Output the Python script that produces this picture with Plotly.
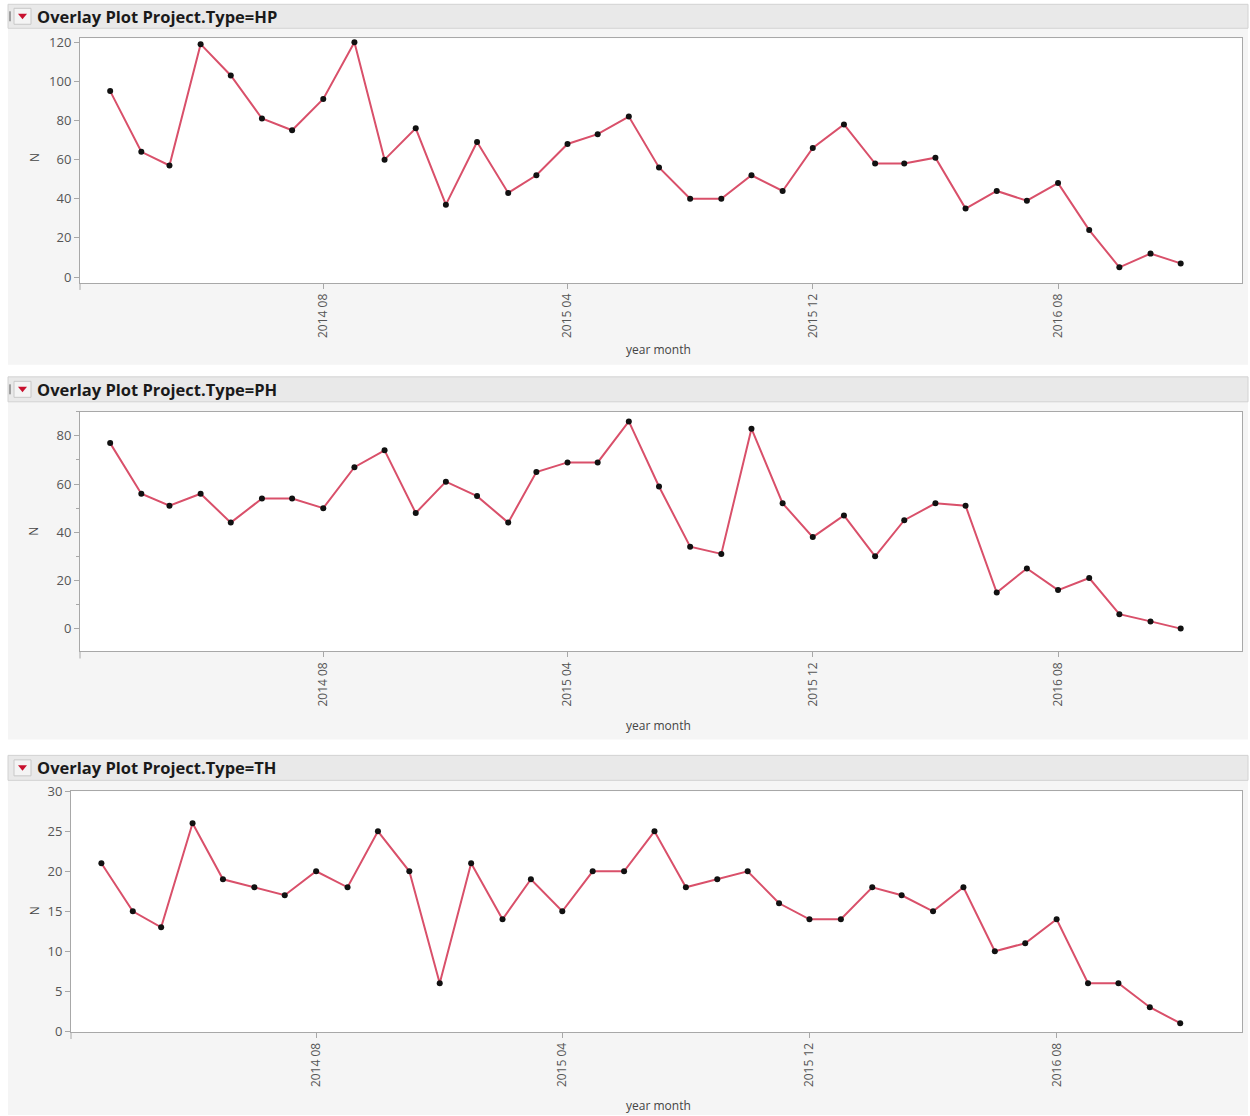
import plotly.graph_objects as go

# Monthly counts of projects, Jan 2014 - Dec 2016
months = [f"{y}-{m:02d}-01" for y in (2014, 2015, 2016) for m in range(1, 13)]

hp_counts = [95, 64, 57, 119, 103, 81, 75, 91, 120, 60, 76, 37,
             69, 43, 52, 68, 73, 82, 56, 40, 40, 52, 44, 66,
             78, 58, 58, 61, 35, 44, 39, 48, 24, 5, 12, 7]
ph_counts = [77, 56, 51, 56, 44, 54, 54, 50, 67, 74, 48, 61,
             55, 44, 65, 69, 69, 86, 59, 34, 31, 83, 52, 38,
             47, 30, 45, 52, 51, 15, 25, 16, 21, 6, 3, 0]
th_counts = [21, 15, 13, 26, 19, 18, 17, 20, 18, 25, 20, 6,
             21, 14, 19, 15, 20, 20, 25, 18, 19, 20, 16, 14,
             14, 18, 17, 15, 18, 10, 11, 14, 6, 6, 3, 1]

panel_titles = ["Overlay Plot Project.Type=HP",
                "Overlay Plot Project.Type=PH",
                "Overlay Plot Project.Type=TH"]
x_ticks = ["2014-08-01", "2015-04-01", "2015-12-01", "2016-08-01"]

W, H = 1250, 1116
# vertical placement offset/scale used when converting layout pixels
Y_OFF, Y_SCALE = 8.7, 0.986


def fx(px):
    return px / W


def fy(py):
    return 1 - ((py - Y_OFF) / Y_SCALE) / H


# pixel geometry of each panel: header band, grey body, plot frame, y-range, y-step
panels = [
    dict(head=(4, 28), body=(28, 365), plot_x=(80, 1242), plot_y=(38, 283),
         yrange=[-3, 122], dtick=20, minor=None, ytitle_y=158, xtitle_y=350,
         marker_bar=True),
    dict(head=(377, 402), body=(402, 740), plot_x=(80, 1242), plot_y=(412, 652),
         yrange=[-9.5, 90], dtick=20, minor=10, ytitle_y=532, xtitle_y=726,
         marker_bar=True),
    dict(head=(756, 781), body=(781, 1116), plot_x=(71, 1242), plot_y=(792, 1033),
         yrange=[-0.1, 30], dtick=5, minor=None, ytitle_y=912, xtitle_y=1107,
         marker_bar=False),
]
series = [hp_counts, ph_counts, th_counts]

fig = go.Figure()
shapes = []
annotations = []

line_color = "#d9506a"
axis_color = "#a8a8a8"
font_family = "Open Sans, DejaVu Sans, sans-serif"
xtick_font = dict(family=font_family, size=12, color="#555555")
ytick_font = dict(family=font_family, size=13, color="#555555")

for i, (p, counts, title) in enumerate(zip(panels, series, panel_titles)):
    n = "" if i == 0 else str(i + 1)
    xa, ya = "x" + n, "y" + n

    fig.add_trace(go.Scatter(
        x=months, y=counts, mode="lines+markers", xaxis=xa, yaxis=ya,
        line=dict(color=line_color, width=2),
        marker=dict(color="#111111", size=6),
        showlegend=False, hoverinfo="x+y",
    ))

    # grey body, white plot frame and header band
    shapes.append(dict(type="rect", xref="paper", yref="paper", layer="below",
                       x0=fx(8), x1=fx(1248), y0=fy(p["body"][1]), y1=fy(p["body"][0]),
                       fillcolor="#f5f5f5", line=dict(width=0)))
    shapes.append(dict(type="rect", xref="paper", yref="paper", layer="below",
                       x0=fx(p["plot_x"][0]), x1=fx(p["plot_x"][1]),
                       y0=fy(p["plot_y"][1]), y1=fy(p["plot_y"][0]),
                       fillcolor="#ffffff", line=dict(width=0)))
    shapes.append(dict(type="rect", xref="paper", yref="paper", layer="below",
                       x0=fx(8), x1=fx(1248), y0=fy(p["head"][1]), y1=fy(p["head"][0]),
                       fillcolor="#e9e9e9", line=dict(color="#d2d2d2", width=1)))
    # y axis line runs a little past the frame bottom
    shapes.append(dict(type="line", xref="paper", yref="paper",
                       x0=fx(p["plot_x"][0]), x1=fx(p["plot_x"][0]),
                       y0=fy(p["plot_y"][1]), y1=fy(p["plot_y"][1] + 7),
                       line=dict(color=axis_color, width=1)))
    # disclosure icon: small box with red down triangle
    hc = (p["head"][0] + p["head"][1]) / 2
    if p["marker_bar"]:
        shapes.append(dict(type="line", xref="paper", yref="paper",
                           x0=fx(10), x1=fx(10), y0=fy(hc + 5), y1=fy(hc - 5),
                           line=dict(color="#555555", width=1)))
    shapes.append(dict(type="rect", xref="paper", yref="paper",
                       x0=fx(14), x1=fx(31), y0=fy(hc + 8), y1=fy(hc - 8),
                       fillcolor="#f4f4f4", line=dict(color="#c8c8c8", width=1)))
    shapes.append(dict(type="path", xref="paper", yref="paper",
                       path=(f"M {fx(18)},{fy(hc - 2.5)} L {fx(27)},{fy(hc - 2.5)} "
                             f"L {fx(22.5)},{fy(hc + 3)} Z"),
                       fillcolor="#c8102e", line=dict(width=0)))
    annotations.append(dict(text=f"<b>{title}</b>", xref="paper", yref="paper",
                            x=fx(35), y=fy(hc), xanchor="left", yanchor="middle",
                            showarrow=False,
                            font=dict(family=font_family, size=16.5, color="#1a1a1a")))
    # axis titles
    annotations.append(dict(text="N", xref="paper", yref="paper",
                            x=fx(34), y=fy(p["ytitle_y"]), textangle=-90,
                            xanchor="center", yanchor="middle",
                            showarrow=False,
                            font=dict(family=font_family, size=12, color="#444444")))
    annotations.append(dict(text="year month", xref="paper", yref="paper",
                            x=fx(658), y=fy(p["xtitle_y"]),
                            xanchor="center", yanchor="middle", showarrow=False,
                            font=dict(family=font_family, size=12, color="#444444")))

    xaxis = dict(
        domain=[fx(p["plot_x"][0]), fx(p["plot_x"][1])],
        anchor=ya, type="date",
        range=["2013-12-02", "2017-01-31"],
        tickvals=x_ticks, tickformat="%Y %m", tickangle=-90,
        ticks="outside", ticklen=5, tickcolor=axis_color,
        showgrid=False, zeroline=False,
        showline=True, linecolor=axis_color, linewidth=1, mirror=True,
        tickfont=xtick_font, fixedrange=True,
    )
    yaxis = dict(
        domain=[fy(p["plot_y"][1]), fy(p["plot_y"][0])],
        anchor=xa, range=p["yrange"], dtick=p["dtick"], tick0=0,
        ticks="outside", ticklen=5, tickcolor=axis_color,
        showgrid=False, zeroline=False,
        showline=True, linecolor=axis_color, linewidth=1, mirror=True,
        tickfont=ytick_font, fixedrange=True,
    )
    if p["minor"]:
        yaxis["minor"] = dict(dtick=p["minor"], tick0=0, ticks="outside",
                              ticklen=3, tickcolor=axis_color)
    fig.update_layout({"xaxis" + n: xaxis, "yaxis" + n: yaxis})

fig.update_layout(
    width=W, height=H,
    margin=dict(l=0, r=0, t=0, b=0),
    paper_bgcolor="#ffffff", plot_bgcolor="#ffffff",
    shapes=shapes, annotations=annotations,
)

fig.write_html("out.html")
